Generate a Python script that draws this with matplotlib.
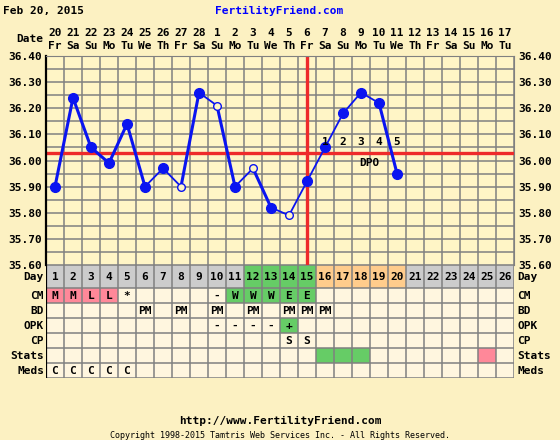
import numpy as np
import matplotlib.pyplot as plt
from matplotlib.patches import Rectangle
from matplotlib.collections import LineCollection
from matplotlib.transforms import blended_transform_factory

# ---- chart data ----
cycle_days = list(range(1, 27))
dates = ['20', '21', '22', '23', '24', '25', '26', '27', '28', '1', '2', '3', '4',
         '5', '6', '7', '8', '9', '10', '11', '12', '13', '14', '15', '16', '17']
weekdays = ['Fr', 'Sa', 'Su', 'Mo', 'Tu', 'We', 'Th', 'Fr', 'Sa', 'Su', 'Mo', 'Tu', 'We',
            'Th', 'Fr', 'Sa', 'Su', 'Mo', 'Tu', 'We', 'Th', 'Fr', 'Sa', 'Su', 'Mo', 'Tu']

temp_days = list(range(1, 21))
temps = [35.90, 36.24, 36.05, 35.99, 36.14, 35.90, 35.97, 35.90, 36.26, 36.21,
         35.90, 35.97, 35.82, 35.79, 35.92, 36.05, 36.18, 36.26, 36.22, 35.95]
open_days = [8, 10, 12, 14]          # discarded / questionable temps
seg_thick = [1, 1, 1, 1, 1, 0, 0, 1, 0, 1, 0, 1, 0, 0, 0, 0, 0, 0, 1]
coverline = 36.03
ovulation_day = 15
dpo_days = [16, 17, 18, 19, 20]
dpo_labels = ['1', '2', '3', '4', '5']

# fertility phase of each day (colours the Day row)
day_phase = ['n'] * 11 + ['f'] * 4 + ['l'] * 5 + ['n'] * 6

cm_days = [1, 2, 3, 4, 5, 10, 11, 12, 13, 14, 15]
cm_text = ['M', 'M', 'L', 'L', '*', '-', 'W', 'W', 'W', 'E', 'E']
cm_kind = ['p', 'p', 'p', 'p', '', '', 'g', 'g', 'g', 'g', 'g']
bd_days = [6, 8, 10, 12, 14, 15, 16]
opk_days = [10, 11, 12, 13, 14]
opk_text = ['-', '-', '-', '-', '+']
opk_kind = ['', '', '', '', 'g']
cp_days = [14, 15]
cp_text = ['S', 'S']
stats_days = [16, 17, 18, 25]
stats_kind = ['g', 'g', 'g', 'p']
meds_days = [1, 2, 3, 4, 5]
meds_text = ['C', 'C', 'C', 'C', 'C']

row_names = ['Day', 'CM', 'BD', 'OPK', 'CP', 'Stats', 'Meds']

# ---- style ----
W, H = 560, 440
outer_bg = '#FCF1C2'
plot_bg = '#FFF5C6'
cell_bg = '#FFF6DF'
grid_c = '#808080'
blue = '#0A14F0'
red = '#EE2A2A'
fill = {'n': '#CCCCCC', 'f': '#66CC66', 'l': '#FFCC8C', 'g': '#66CC66', 'p': '#FF8899', '': cell_bg}
mono = 'DejaVu Sans Mono'
fs = 8

fig = plt.figure(figsize=(W / 100, H / 100), dpi=100, facecolor=outer_bg)

# temperature chart area: x 46-514 px, y 56-265 px
ax = fig.add_axes([46 / W, 1 - 265 / H, 468 / W, 209 / H])
ax.set_xlim(0.5, 26.5)
ax.set_ylim(35.6, 36.4)
ax.set_facecolor(plot_bg)
for x in np.arange(0.5, 27, 1):
    ax.axvline(x, color=grid_c, lw=1.1, zorder=1)
for y in np.arange(35.6, 36.401, 0.05):
    ax.axhline(y, color=grid_c, lw=1.1, zorder=1)

ax.set_xticks([])
ax.set_yticks(np.arange(35.6, 36.401, 0.1))
ax.set_yticklabels(['%.2f' % v for v in np.arange(35.6, 36.401, 0.1)])
ax.tick_params(axis='y', length=0, pad=3, labelleft=True, labelright=True)
for lbl in ax.get_yticklabels():
    lbl.set_fontfamily(mono)
    lbl.set_fontweight('bold')
    lbl.set_fontsize(fs)
for side in ['top', 'right', 'bottom']:
    ax.spines[side].set_color(grid_c)
ax.spines['left'].set_color('black')
ax.spines['left'].set_linewidth(1.6)

# coverline and ovulation line
ax.axhline(coverline, color=red, lw=2.4, zorder=2)
ax.axvline(ovulation_day, color=red, lw=2.4, zorder=2)

# temperature line, segment widths vary like the original
pts = np.column_stack([temp_days, temps])
segs = [pts[i:i + 2] for i in range(len(pts) - 1)]
lc = LineCollection(segs, colors=blue, linewidths=[2.2 if t else 1.3 for t in seg_thick], zorder=3)
ax.add_collection(lc)

filled_x = [d for d in temp_days if d not in open_days]
filled_y = [t for d, t in zip(temp_days, temps) if d not in open_days]
open_y = [temps[temp_days.index(d)] for d in open_days]
ax.plot(filled_x, filled_y, 'o', color=blue, ms=7, zorder=4)
ax.plot(open_days, open_y, 'o', mfc=plot_bg, mec=blue, mew=1, ms=5.5, zorder=4)

for d, s in zip(dpo_days, dpo_labels):
    ax.text(d, 36.072, s, ha='center', va='center', fontfamily=mono, fontweight='bold', fontsize=fs, zorder=5)
ax.text(18.45, 35.99, 'DPO', ha='center', va='center', fontfamily=mono, fontweight='bold', fontsize=fs, zorder=5)

# date header above the chart
trans = blended_transform_factory(ax.transData, fig.transFigure)
for d, dt, wd in zip(cycle_days, dates, weekdays):
    fig.text(d, 1 - 33 / H, dt, transform=trans, ha='center', va='center',
             fontfamily=mono, fontweight='bold', fontsize=fs)
    fig.text(d, 1 - 46 / H, wd, transform=trans, ha='center', va='center',
             fontfamily=mono, fontweight='bold', fontsize=fs)
fig.text(43 / W, 1 - 39 / H, 'Date', ha='right', va='center', fontfamily=mono, fontweight='bold', fontsize=fs)

fig.text(3 / W, 1 - 11 / H, 'Feb 20, 2015', ha='left', va='center', fontfamily=mono, fontweight='bold', fontsize=fs)
fig.text(279 / W, 1 - 11 / H, 'FertilityFriend.com', ha='center', va='center', color='#0000FF',
         fontfamily=mono, fontweight='bold', fontsize=fs)

# ---- table under the chart: y 265-378 px ----
tab = fig.add_axes([46 / W, 1 - 378 / H, 468 / W, 113 / H])
tab.set_xlim(0.5, 26.5)
tab.set_ylim(113, 0)
tab.axis('off')
row_top = [0, 23, 38, 53, 68, 83, 98]
row_h = [23, 15, 15, 15, 15, 15, 15]


def cell(row, day, text='', kind=''):
    if kind:
        tab.add_patch(Rectangle((day - 0.5, row_top[row]), 1, row_h[row], facecolor=fill[kind],
                                edgecolor='none', zorder=1))
    if text:
        tab.text(day, row_top[row] + row_h[row] / 2 + 0.5, text, ha='center', va='center',
                 fontfamily=mono, fontweight='bold', fontsize=fs, zorder=3)


tab.add_patch(Rectangle((0.5, 23), 26, 90, facecolor=cell_bg, edgecolor='none', zorder=0))
for d, ph in zip(cycle_days, day_phase):
    cell(0, d, str(d), ph)
for d, s, k in zip(cm_days, cm_text, cm_kind):
    cell(1, d, s, k)
for d in bd_days:
    cell(2, d, 'PM')
for d, s, k in zip(opk_days, opk_text, opk_kind):
    cell(3, d, s, k)
for d, s in zip(cp_days, cp_text):
    cell(4, d, s)
for d, k in zip(stats_days, stats_kind):
    cell(5, d, '', k)
for d, s in zip(meds_days, meds_text):
    cell(6, d, s)

for x in np.arange(0.5, 27, 1):
    tab.plot([x, x], [0, 113], color=grid_c, lw=1.1, zorder=2)
for y in row_top + [113]:
    tab.plot([0.5, 26.5], [y, y], color=grid_c, lw=1.1, zorder=2)
tab.plot([0.5, 0.5], [0, 113], color='black', lw=1.6, zorder=2)

# row labels on both sides
for r, name in enumerate(row_names):
    yc = 1 - (265 + row_top[r] + row_h[r] / 2 + 0.5) / H
    fig.text(44 / W, yc, name, ha='right', va='center', fontfamily=mono, fontweight='bold', fontsize=fs)
    fig.text(517 / W, yc, name, ha='left', va='center', fontfamily=mono, fontweight='bold', fontsize=fs)

# footer
fig.text(280 / W, 1 - 421 / H, 'http://www.FertilityFriend.com', ha='center', va='center',
         fontfamily=mono, fontweight='bold', fontsize=fs)
fig.text(280 / W, 1 - 435 / H, 'Copyright 1998-2015 Tamtris Web Services Inc. - All Rights Reserved.',
         ha='center', va='center', fontfamily=mono, fontsize=6)

fig.savefig('out.png', dpi=100, facecolor=outer_bg)
